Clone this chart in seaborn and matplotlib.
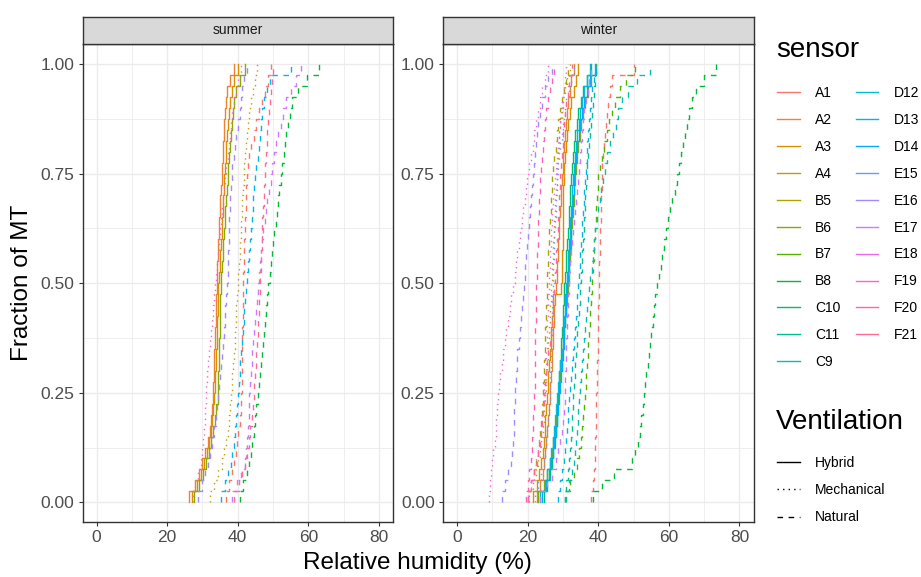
import numpy as np
import pandas as pd
import seaborn as sns
import matplotlib.pyplot as plt
from matplotlib.lines import Line2D

# relative humidity readings (%) per sensor, summer
summer_A1 = [36.8, 37.6, 38.3, 38.9, 39.4, 39.8, 40.2, 40.5, 40.8, 41.0, 41.1, 41.1, 41.2, 41.2, 41.3, 41.3, 41.4, 41.4, 41.5, 41.5,
             41.6, 41.7, 41.8, 41.9, 42.0, 42.1, 42.2, 42.3, 42.4, 42.5, 42.8, 43.2, 43.8, 44.5, 45.3, 46.0, 46.8, 47.6, 48.5, 49.5]
summer_A2 = [26.2, 27.8, 29.0, 30.0, 30.8, 31.5, 32.0, 32.4, 32.7, 33.0, 33.1, 33.2, 33.3, 33.4, 33.5, 33.6, 33.7, 33.8, 33.9, 34.0,
             34.1, 34.2, 34.3, 34.4, 34.6, 34.8, 34.9, 35.0, 35.2, 35.4, 35.5, 35.7, 35.8, 36.0, 36.1, 36.3, 36.6, 37.0, 37.8, 39.0]
summer_A3 = [27.0, 28.5, 29.6, 30.5, 31.2, 31.8, 32.3, 32.7, 33.0, 33.3, 33.5, 33.6, 33.8, 33.9, 34.0, 34.1, 34.2, 34.3, 34.4, 34.5,
             34.7, 34.9, 35.1, 35.3, 35.5, 35.6, 35.8, 35.9, 36.0, 36.2, 36.4, 36.6, 36.8, 37.0, 37.2, 37.5, 37.8, 38.3, 39.0, 40.0]
summer_A4 = [32.0, 33.3, 34.5, 35.5, 36.2, 36.8, 37.2, 37.5, 37.8, 38.1, 38.3, 38.5, 38.7, 38.9, 39.1, 39.3, 39.5, 39.6, 39.8, 40.0,
             40.2, 40.3, 40.5, 40.6, 40.8, 40.9, 41.1, 41.3, 41.5, 41.7, 41.9, 42.1, 42.4, 42.7, 43.0, 43.3, 43.7, 44.2, 44.8, 45.5]
summer_B6 = [27.6, 29.0, 30.2, 31.0, 31.8, 32.5, 33.0, 33.5, 33.9, 34.3, 34.4, 34.5, 34.6, 34.7, 34.8, 34.9, 35.0, 35.0, 35.1, 35.2,
             35.3, 35.5, 35.7, 35.9, 36.1, 36.3, 36.5, 36.7, 36.9, 37.1, 37.3, 37.5, 37.8, 38.0, 38.3, 38.6, 39.0, 39.6, 40.5, 42.0]
summer_B8 = [40.5, 41.5, 42.5, 43.3, 43.7, 44.1, 44.5, 44.9, 45.3, 45.7, 46.0, 46.3, 46.6, 46.9, 47.2, 47.5, 47.8, 48.0, 48.3, 48.6,
             49.0, 49.3, 49.7, 50.0, 50.4, 50.7, 51.1, 51.4, 51.8, 52.2, 52.6, 53.0, 53.4, 53.8, 54.2, 54.7, 55.5, 57.0, 59.5, 63.0]
summer_D13 = [35.2, 36.3, 37.3, 38.0, 38.5, 38.9, 39.2, 39.5, 39.8, 40.0, 40.3, 40.5, 40.7, 40.9, 41.2, 41.4, 41.7, 41.9, 42.1, 42.4,
              42.7, 42.9, 43.2, 43.4, 43.7, 43.9, 44.2, 44.4, 44.7, 45.0, 45.3, 45.6, 45.9, 46.2, 46.6, 47.0, 47.5, 48.2, 49.0, 55.0]
summer_E16 = [28.8, 29.8, 30.7, 31.5, 32.2, 32.8, 33.3, 33.7, 34.0, 34.3, 34.6, 34.9, 35.2, 35.5, 35.8, 36.0, 36.3, 36.5, 36.8, 37.0,
              37.1, 37.2, 37.3, 37.4, 37.5, 37.6, 37.8, 37.9, 38.1, 38.3, 38.5, 38.8, 39.1, 39.5, 40.0, 40.5, 40.9, 41.3, 41.8, 42.5]
summer_E17 = [38.5, 39.8, 41.0, 42.0, 42.4, 42.7, 42.9, 43.1, 43.2, 43.3, 43.5, 43.7, 43.9, 44.1, 44.4, 44.6, 44.9, 45.1, 45.4, 45.6,
              45.9, 46.2, 46.5, 46.8, 47.2, 47.6, 48.0, 48.4, 48.8, 49.3, 49.8, 50.3, 50.9, 51.5, 52.2, 52.9, 53.8, 55.0, 56.4, 58.0]
summer_F19 = [27.2, 27.8, 28.8, 29.5, 29.9, 30.2, 30.4, 30.6, 30.8, 30.9, 31.0, 31.2, 31.5, 31.8, 32.1, 32.4, 32.7, 32.9, 33.2, 33.5,
              33.8, 34.1, 34.4, 34.7, 35.0, 35.3, 35.6, 35.9, 36.2, 36.5, 36.8, 37.1, 37.4, 37.7, 38.1, 38.5, 38.9, 39.4, 40.0, 41.0]
summer_F21 = [39.0, 40.3, 41.3, 42.0, 42.6, 43.1, 43.5, 43.9, 44.2, 44.5, 44.7, 44.9, 45.1, 45.3, 45.5, 45.7, 45.8, 46.0, 46.1, 46.2,
              46.3, 46.5, 46.6, 46.8, 46.9, 47.0, 47.2, 47.3, 47.5, 47.6, 47.8, 48.0, 48.2, 48.4, 48.6, 48.8, 49.0, 49.3, 49.6, 50.0]

# relative humidity readings (%) per sensor, winter
winter_A1 = [38.0, 38.5, 38.8, 39.0, 39.1, 39.2, 39.3, 39.4, 39.5, 39.5, 39.6, 39.7, 39.7, 39.8, 39.8, 39.9, 40.0, 40.0, 40.1, 40.2,
             40.2, 40.3, 40.4, 40.5, 40.6, 40.7, 40.8, 40.9, 41.0, 41.1, 41.2, 41.4, 41.6, 41.8, 42.1, 42.4, 42.8, 43.3, 44.0, 50.0]
winter_A2 = [22.5, 23.5, 24.2, 24.7, 25.0, 25.3, 25.6, 25.8, 26.0, 26.2, 26.4, 26.6, 26.8, 27.0, 27.1, 27.3, 27.5, 27.6, 27.8, 28.0,
             28.2, 28.3, 28.5, 28.7, 28.8, 29.0, 29.2, 29.4, 29.5, 29.7, 29.9, 30.1, 30.3, 30.6, 30.9, 31.2, 31.5, 31.9, 32.4, 33.0]
winter_A3 = [21.5, 22.5, 23.3, 23.8, 24.2, 24.5, 24.8, 25.0, 25.3, 25.5, 25.7, 25.9, 26.1, 26.3, 26.5, 26.7, 26.9, 27.1, 27.3, 29.5,
             29.7, 29.8, 29.8, 29.9, 29.9, 30.0, 30.0, 30.1, 30.1, 30.2, 30.4, 30.6, 30.9, 31.2, 31.5, 31.9, 32.4, 33.0, 33.6, 34.3]
winter_A4 = [20.5, 21.6, 22.4, 23.0, 23.5, 23.9, 24.2, 24.5, 24.7, 24.9, 25.1, 25.3, 25.5, 25.7, 25.9, 26.0, 26.2, 26.3, 26.5, 26.6,
             26.8, 26.9, 27.1, 27.2, 27.4, 27.5, 27.7, 27.8, 28.0, 28.2, 28.4, 28.6, 28.8, 29.0, 29.3, 29.6, 30.0, 30.5, 31.2, 32.0]
winter_B5 = [20.0, 21.0, 21.8, 22.4, 22.8, 23.2, 23.5, 23.8, 24.0, 24.3, 24.4, 24.5, 24.7, 24.8, 24.9, 25.0, 25.1, 25.2, 25.4, 25.5,
             25.6, 25.7, 25.9, 26.0, 26.1, 26.3, 26.5, 26.6, 26.8, 27.0, 27.3, 27.6, 27.9, 28.3, 28.7, 29.2, 29.7, 30.3, 30.8, 31.4]
winter_B6 = [23.0, 24.5, 25.5, 26.2, 26.8, 27.3, 27.7, 28.0, 28.3, 28.6, 28.9, 29.2, 29.5, 29.8, 30.1, 30.4, 30.6, 30.9, 31.1, 31.4,
             31.6, 31.8, 32.0, 32.2, 32.4, 32.6, 32.8, 33.0, 33.2, 33.4, 33.7, 34.0, 34.3, 34.7, 35.1, 35.6, 36.2, 37.0, 38.0, 39.5]
winter_B7 = [30.5, 32.0, 33.2, 34.0, 34.6, 35.0, 35.4, 35.7, 36.0, 36.2, 36.4, 36.6, 36.8, 37.0, 37.2, 37.4, 37.6, 37.8, 37.9, 38.1,
             38.3, 38.5, 38.7, 38.9, 39.1, 39.3, 39.5, 39.7, 39.8, 40.0, 40.5, 41.0, 41.7, 42.4, 43.1, 43.8, 44.8, 46.2, 48.0, 50.5]
winter_B8 = [38.5, 41.0, 44.5, 49.5, 50.5, 51.2, 51.8, 52.2, 52.6, 52.9, 53.3, 53.6, 54.0, 54.3, 54.7, 55.0, 55.4, 55.7, 56.2, 56.7,
             57.2, 57.7, 58.2, 58.7, 59.2, 59.8, 60.4, 61.0, 61.7, 62.4, 62.9, 63.5, 64.0, 64.6, 65.1, 65.7, 66.5, 67.8, 70.0, 73.5]
winter_C10 = [24.5, 25.5, 26.3, 26.9, 27.3, 27.7, 28.0, 28.2, 28.4, 28.6, 28.8, 29.0, 29.2, 29.4, 29.5, 29.7, 29.9, 30.0, 30.2, 30.4,
              30.6, 30.8, 31.0, 31.2, 31.4, 31.6, 31.8, 32.0, 32.1, 32.2, 32.5, 32.8, 33.1, 33.5, 33.9, 34.4, 35.0, 35.8, 36.8, 38.0]
winter_C11 = [30.5, 31.0, 31.4, 31.8, 32.1, 32.3, 32.5, 32.7, 32.8, 32.9, 33.1, 33.3, 33.5, 33.7, 33.9, 34.1, 34.3, 34.5, 34.7, 34.9,
              35.1, 35.3, 35.5, 35.7, 35.9, 36.0, 36.2, 36.3, 36.5, 36.7, 36.9, 37.1, 37.3, 37.6, 37.9, 38.2, 38.5, 38.8, 39.1, 39.5]
winter_C9 = [31.0, 31.8, 32.5, 33.0, 33.4, 33.7, 34.0, 34.2, 34.4, 34.6, 34.9, 35.2, 35.4, 35.7, 35.9, 36.2, 36.5, 36.8, 37.1, 37.5,
             37.8, 38.1, 38.5, 38.8, 39.2, 39.6, 40.0, 40.4, 40.9, 41.4, 42.0, 42.6, 43.3, 44.1, 44.9, 45.7, 46.8, 48.5, 51.0, 54.8]
winter_D12 = [23.5, 24.8, 25.6, 26.2, 26.7, 27.1, 27.5, 27.8, 28.1, 28.4, 28.7, 29.0, 29.3, 29.6, 29.9, 30.1, 30.3, 30.5, 30.7, 30.9,
              31.1, 31.3, 31.5, 31.7, 31.9, 32.1, 32.3, 32.5, 32.7, 32.9, 33.2, 33.5, 33.8, 34.1, 34.5, 34.9, 35.4, 36.0, 36.8, 37.8]
winter_D13 = [28.5, 29.2, 29.8, 30.3, 30.7, 31.0, 31.2, 31.4, 31.5, 31.6, 31.9, 32.2, 32.5, 32.8, 33.1, 33.4, 33.7, 33.9, 34.1, 34.3,
              34.5, 34.7, 34.9, 35.1, 35.3, 35.5, 35.7, 35.9, 36.1, 36.3, 36.5, 36.7, 36.9, 37.1, 37.3, 37.6, 37.9, 38.3, 38.8, 39.5]
winter_D14 = [24.0, 25.2, 26.0, 26.6, 27.1, 27.5, 27.9, 28.2, 28.5, 28.8, 29.1, 29.4, 29.7, 30.0, 30.2, 30.4, 30.6, 30.8, 31.0, 31.2,
              31.4, 31.6, 31.8, 32.0, 32.2, 32.4, 32.6, 32.8, 33.0, 33.2, 33.5, 33.8, 34.1, 34.5, 34.9, 35.4, 36.0, 36.8, 37.8, 39.0]
winter_E15 = [22.0, 23.0, 23.8, 24.5, 25.0, 25.3, 25.6, 25.8, 26.0, 26.2, 26.3, 26.4, 26.5, 26.6, 26.7, 26.8, 26.9, 27.0, 27.0, 27.1,
              27.2, 27.3, 27.4, 27.5, 27.6, 27.7, 27.9, 28.0, 28.2, 28.4, 28.6, 28.9, 29.2, 29.6, 30.0, 30.5, 31.0, 31.6, 32.3, 33.0]
winter_E16 = [12.8, 13.5, 14.3, 15.2, 15.6, 15.8, 16.0, 16.1, 16.2, 16.3, 16.5, 16.7, 16.9, 17.1, 17.4, 17.7, 18.0, 18.3, 18.6, 18.9,
              19.1, 19.3, 19.6, 19.8, 20.1, 20.3, 20.6, 20.8, 21.1, 21.4, 21.7, 22.0, 22.3, 22.6, 23.0, 23.4, 24.0, 24.8, 25.8, 27.0]
winter_E17 = [23.5, 25.5, 27.0, 28.0, 28.7, 29.2, 29.6, 29.9, 30.2, 30.5, 30.6, 30.7, 30.8, 30.9, 31.0, 31.1, 31.2, 31.3, 31.5, 31.6,
              31.8, 32.0, 32.3, 32.6, 32.9, 33.2, 33.5, 33.8, 34.0, 34.3, 34.6, 34.9, 35.2, 35.5, 35.8, 36.1, 36.5, 37.0, 37.5, 38.0]
winter_E18 = [20.0, 21.0, 21.8, 22.4, 22.9, 23.3, 23.7, 24.0, 24.3, 24.5, 24.7, 24.9, 25.1, 25.2, 25.4, 25.5, 25.6, 25.8, 25.9, 26.0,
              26.1, 26.3, 26.4, 26.5, 26.7, 26.8, 27.0, 27.2, 27.5, 27.8, 28.0, 28.3, 28.6, 28.9, 29.2, 29.5, 29.8, 30.2, 30.6, 31.0]
winter_F19 = [9.0, 9.3, 9.7, 10.0, 10.3, 10.6, 10.9, 11.1, 11.3, 11.5, 11.8, 12.2, 12.6, 13.0, 13.5, 13.9, 14.4, 14.9, 15.4, 15.9,
              16.3, 16.7, 17.1, 17.5, 17.9, 18.3, 18.7, 19.1, 19.5, 19.9, 20.4, 20.9, 21.4, 21.9, 22.4, 22.9, 23.5, 24.1, 24.9, 25.8]
winter_F20 = [19.4, 20.0, 20.5, 20.9, 21.1, 21.3, 21.5, 21.6, 21.8, 21.9, 22.0, 22.0, 22.1, 22.1, 22.2, 22.2, 22.3, 22.3, 22.4, 22.4,
              22.5, 22.6, 22.7, 22.8, 22.9, 23.0, 23.1, 23.3, 23.4, 23.6, 23.8, 24.0, 24.3, 24.6, 24.9, 25.3, 25.8, 26.3, 26.9, 27.6]
winter_F21 = [20.0, 21.0, 21.8, 22.5, 23.0, 23.4, 23.8, 24.1, 24.4, 24.7, 25.0, 25.3, 25.6, 25.9, 26.2, 26.5, 26.8, 27.1, 27.3, 27.5,
              27.7, 27.9, 28.1, 28.3, 28.5, 28.7, 28.8, 29.0, 29.2, 29.3, 29.5, 29.7, 29.9, 30.1, 30.3, 30.6, 30.9, 31.3, 31.8, 32.5]

sensors = ["A1", "A2", "A3", "A4", "B5", "B6", "B7", "B8", "C10", "C11", "C9",
           "D12", "D13", "D14", "E15", "E16", "E17", "E18", "F19", "F20", "F21"]
ventilation = ["Natural", "Hybrid", "Hybrid", "Mechanical", "Natural", "Hybrid", "Natural",
               "Natural", "Hybrid", "Natural", "Natural", "Hybrid", "Natural", "Hybrid",
               "Mechanical", "Natural", "Natural", "Mechanical", "Mechanical", "Natural", "Natural"]
vent_types = ["Hybrid", "Mechanical", "Natural"]
seasons = ["summer", "winter"]
x_ticks = [0, 20, 40, 60, 80]
y_ticks = [0.0, 0.25, 0.5, 0.75, 1.0]

readings = {"summer": {"A1": summer_A1, "A2": summer_A2, "A3": summer_A3, "A4": summer_A4,
                       "B6": summer_B6, "B8": summer_B8, "D13": summer_D13, "E16": summer_E16,
                       "E17": summer_E17, "F19": summer_F19, "F21": summer_F21},
            "winter": {"A1": winter_A1, "A2": winter_A2, "A3": winter_A3, "A4": winter_A4,
                       "B5": winter_B5, "B6": winter_B6, "B7": winter_B7, "B8": winter_B8,
                       "C10": winter_C10, "C11": winter_C11, "C9": winter_C9, "D12": winter_D12,
                       "D13": winter_D13, "D14": winter_D14, "E15": winter_E15, "E16": winter_E16,
                       "E17": winter_E17, "E18": winter_E18, "F19": winter_F19, "F20": winter_F20,
                       "F21": winter_F21}}

rows = []
for season in seasons:
    for s, vals in readings[season].items():
        for v in vals:
            rows.append((season, s, ventilation[sensors.index(s)], v))
df = pd.DataFrame(rows, columns=["season", "sensor", "Ventilation", "rh"])


# ggplot default hue palette (HCL, c=100, l=65)
def hue_pal(n, c=100.0, l=65.0):
    hues = np.linspace(15, 375 - 360 / n, n) % 360
    Xn, Yn, Zn = 95.047, 100.0, 108.883
    un = 4 * Xn / (Xn + 15 * Yn + 3 * Zn)
    vn = 9 * Yn / (Xn + 15 * Yn + 3 * Zn)
    M = np.array([[3.240479, -1.537150, -0.498535],
                  [-0.969256, 1.875992, 0.041556],
                  [0.055648, -0.204043, 1.057311]])
    out = []
    for h in hues:
        u = c * np.cos(np.radians(h))
        v = c * np.sin(np.radians(h))
        Y = Yn * ((l + 16) / 116) ** 3
        up = u / (13 * l) + un
        vp = v / (13 * l) + vn
        X = 9 * Y * up / (4 * vp)
        Z = Y * (12 - 3 * up - 20 * vp) / (4 * vp)
        rgb = M @ (np.array([X, Y, Z]) / 100)
        rgb = np.where(rgb <= 0.0031308, 12.92 * rgb, 1.055 * np.abs(rgb) ** (1 / 2.4) - 0.055)
        out.append(tuple(np.clip(rgb, 0, 1)))
    return out


palette = dict(zip(sensors, hue_pal(len(sensors))))
dash_styles = {"Hybrid": "-", "Mechanical": (0, (1, 3)), "Natural": (0, (4, 4))}

plt.rcParams["font.family"] = ["Liberation Sans", "DejaVu Sans"]

fig = plt.figure(figsize=(9.21, 5.77), dpi=100)
W, H = 921, 577
panel_left = [82.5, 443]
panel_w = 310.5
top_px, bottom_px, strip_h = 44, 522, 27
y0_px, y1_px = 502.3, 64

for i, season in enumerate(seasons):
    ax = fig.add_axes([panel_left[i] / W, 1 - bottom_px / H, panel_w / W, (bottom_px - top_px) / H])
    sub = df[df["season"] == season]
    for s in sensors:
        d = sub[sub["sensor"] == s]
        if d.empty:
            continue
        vent = ventilation[sensors.index(s)]
        sns.ecdfplot(data=d, x="rh", ax=ax, color=palette[s], linestyle=dash_styles[vent], linewidth=1.0)
    ax.set_xlim(-4, 84)
    unit = y0_px - y1_px
    ax.set_ylim(-(bottom_px - y0_px) / unit, 1 + (y1_px - top_px) / unit)
    ax.set_xticks(x_ticks)
    ax.set_yticks(y_ticks)
    ax.set_yticklabels([f"{t:.2f}" for t in y_ticks])
    ax.set_xticks([10, 30, 50, 70], minor=True)
    ax.set_yticks([0.125, 0.375, 0.625, 0.875], minor=True)
    ax.grid(which="major", color="#EBEBEB", linewidth=1.0)
    ax.grid(which="minor", color="#EBEBEB", linewidth=0.6)
    ax.set_axisbelow(True)
    ax.tick_params(which="major", length=3, width=0.8, color="#333333", labelsize=12.5, labelcolor="#4D4D4D", pad=3)
    ax.tick_params(which="minor", length=0)
    for sp in ax.spines.values():
        sp.set_color("#333333")
        sp.set_linewidth(1.0)
    ax.set_xlabel("")
    ax.set_ylabel("")
    # facet strip
    sax = fig.add_axes([panel_left[i] / W, 1 - top_px / H, panel_w / W, strip_h / H])
    sax.set_facecolor("#D9D9D9")
    sax.set_xticks([])
    sax.set_yticks([])
    for sp in sax.spines.values():
        sp.set_color("#333333")
        sp.set_linewidth(1.0)
    sax.text(0.5, 0.5, season, ha="center", va="center", fontsize=10, color="#1A1A1A", transform=sax.transAxes)

fig.text(417 / W, 1 - 563 / H, "Relative humidity (%)", ha="center", va="center", fontsize=17.5)
fig.text(22 / W, 1 - 283 / H, "Fraction of MT", ha="center", va="center", rotation=90, fontsize=17.5)

# legends
fig.text(776 / W, 1 - 50 / H, "sensor", ha="left", va="center", fontsize=20)
sensor_handles = [Line2D([], [], color=palette[s], linewidth=1.0) for s in sensors]
fig.legend(sensor_handles, sensors, loc="upper left", bbox_to_anchor=(777 / W, 1 - 86 / H),
           ncol=2, frameon=False, fontsize=10, handlelength=1.65, handletextpad=1.08,
           labelspacing=0.93, columnspacing=1.1, borderpad=0, borderaxespad=0)

fig.text(776 / W, 1 - 422 / H, "Ventilation", ha="left", va="center", fontsize=20)
vent_handles = [Line2D([], [], color="black", linewidth=1.0, linestyle=dash_styles[v]) for v in vent_types]
fig.legend(vent_handles, vent_types, loc="upper left", bbox_to_anchor=(777 / W, 1 - 456 / H),
           frameon=False, fontsize=10, handlelength=1.65, handletextpad=1.08,
           labelspacing=0.95, borderpad=0, borderaxespad=0)

fig.savefig("out.png", dpi=100)
